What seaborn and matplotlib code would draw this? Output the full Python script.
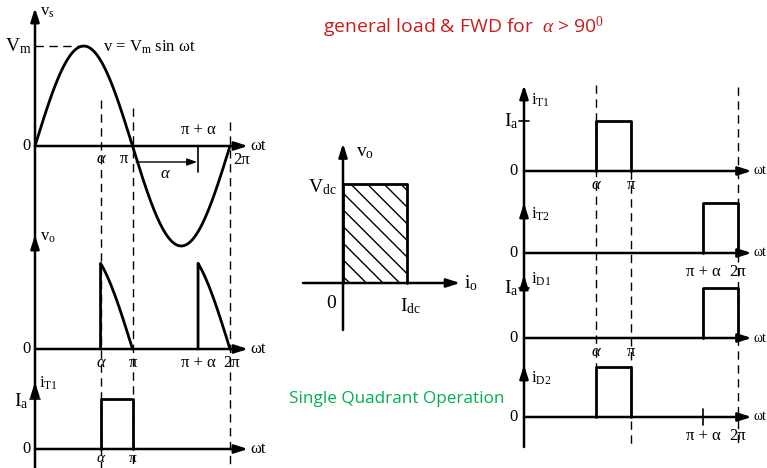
import numpy as np
import matplotlib
matplotlib.use("Agg")
import matplotlib.pyplot as plt
import seaborn as sns

sns.set_theme(style="white")
plt.rcParams['font.family'] = ['Liberation Serif', 'DejaVu Serif']
plt.rcParams['mathtext.fontset'] = 'custom'
plt.rcParams['mathtext.rm'] = 'Liberation Serif'
plt.rcParams['mathtext.it'] = 'Liberation Serif:italic'
plt.rcParams['mathtext.bf'] = 'Liberation Serif:bold'
plt.rcParams['hatch.linewidth'] = 1.0
plt.rcParams['hatch.color'] = 'black'

# ---------------- waveform data ----------------
alpha_deg = 121                      # firing angle (> 90 deg)
alpha = np.deg2rad(alpha_deg)
Vm = 1.0                             # source peak
Ia = 1.0                             # load current level (right column)
Ia_left = 0.5                        # load current level in the left column (Vm units)
Vdc = 1.0
Idc = 1.0

wt = np.linspace(0, 2 * np.pi, 361)
vs = Vm * np.sin(wt)

seg1 = np.linspace(alpha, np.pi, 120)
seg2 = np.linspace(np.pi + alpha, 2 * np.pi, 120)
vo1_x = np.r_[alpha, seg1]
vo1_y = np.r_[0.0, np.abs(Vm * np.sin(seg1))]
vo2_x = np.r_[np.pi + alpha, seg2]
vo2_y = np.r_[0.0, np.abs(Vm * np.sin(seg2))]

# conduction intervals of each device
conduction = {
    'T1': (alpha, np.pi),
    'T2': (np.pi + alpha, 2 * np.pi),
    'D1': (np.pi + alpha, 2 * np.pi),
    'D2': (alpha, np.pi),
}

W, H = 767, 468
fig = plt.figure(figsize=(W / 100, H / 100), dpi=100)
fig.patch.set_facecolor('white')


def overlay(x0, xs, y0, ys):
    """Transparent full-figure axes whose origin sits at pixel (x0, y0)."""
    ax = fig.add_axes([0, 0, 1, 1])
    ax.set_xlim(-x0 / xs, (W - x0) / xs)
    ax.set_ylim(-(H - y0) / ys, y0 / ys)
    ax.axis('off')
    ax.patch.set_alpha(0)
    return ax


LW_AX = 1.8
LW_W = 2.0
DASH = dict(color='black', lw=1.0, linestyle=(0, (6, 4)))
ARW = dict(arrowstyle='-|>,head_length=0.5,head_width=0.16', color='black',
           lw=LW_AX, shrinkA=0, shrinkB=0, mutation_scale=16)


def axis_arrow(ax, start, tip):
    ax.annotate('', xy=tip, xytext=start, arrowprops=ARW, annotation_clip=False)


def wave(ax, x, y, base=0.0, scale=1.0, lw=LW_W):
    sns.lineplot(x=np.asarray(x), y=base + scale * np.asarray(y), ax=ax,
                 sort=False, estimator=None, color='black', lw=lw, legend=False)


def pulse(ax, a, b, level, base):
    wave(ax, [a, a, b, b], [0, level, level, 0], base=base)


def txt(ax, x, y, s, size=12, **kw):
    kw.setdefault('ha', 'center')
    kw.setdefault('va', 'center')
    ax.text(x, y, s, fontsize=size, color='black', clip_on=False, **kw)


PI = np.pi
TWO_PI = 2 * np.pi
A_TXT = dict(style='italic')

# ---------------- left column: vs, vo, iT1 ----------------
axL = overlay(35, 195 / TWO_PI, 146, 100)
b_vs, b_vo, b_i = 0.0, -2.03, -3.03
x_end = TWO_PI + 0.58

# vertical axis with arrowheads for each trace
axis_arrow(axL, (0, -3.3), (0, 1.38))
for tip in (-0.89, -2.36):
    axis_arrow(axL, (0, tip - 0.15), (0, tip))
for b in (b_vs, b_vo, b_i):
    axis_arrow(axL, (0, b), (x_end, b))
    txt(axL, -0.26, b, '0', 12)
    txt(axL, TWO_PI + 0.92, b, 'ωt', 12)

# dashed markers
axL.plot([alpha, alpha], [0.46, -3.3], **DASH, clip_on=False)
axL.plot([PI, PI], [0.38, -3.3], **DASH, clip_on=False)
axL.plot([TWO_PI, TWO_PI], [0.24, -3.3], **DASH, clip_on=False)
axL.plot([0, PI / 2], [Vm, Vm], **DASH)

# source voltage
wave(axL, wt, vs, base=b_vs)
txt(axL, -0.55, Vm, r'$\mathrm{V_m}$', 14)
txt(axL, 0.15, 1.34, r'$\mathrm{v_s}$', 12, ha='left')
txt(axL, 2.18, 0.99, r'v = $\mathrm{V_m}$ sin ωt', 12, ha='left')
txt(axL, alpha, -0.13, 'α', 12, **A_TXT)
txt(axL, PI - 0.27, -0.13, 'π', 12)
txt(axL, PI + alpha, 0.16, 'π + α', 12)
txt(axL, TWO_PI + 0.36, -0.14, '2π', 12)
axL.plot([PI + alpha, PI + alpha], [0, -0.26], color='black', lw=1.2)
axL.annotate('', xy=(PI + alpha - 0.03, -0.16), xytext=(PI + 0.12, -0.16),
             arrowprops=dict(arrowstyle='-|>,head_length=0.5,head_width=0.18',
                             color='black', lw=1.0, shrinkA=0, shrinkB=0,
                             mutation_scale=12))
txt(axL, PI + alpha / 2, -0.28, 'α', 12, **A_TXT)

# output voltage
wave(axL, vo1_x, vo1_y, base=b_vo)
wave(axL, vo2_x, vo2_y, base=b_vo)
txt(axL, 0.15, -0.91, r'$\mathrm{v_o}$', 12, ha='left')
for x, s in ((alpha, 'α'), (PI, 'π'), (PI + alpha, 'π + α'), (TWO_PI + 0.05, '2π')):
    txt(axL, x, b_vo - 0.14, s, 12, **(A_TXT if s == 'α' else {}))

# thyristor current
a, b = conduction['T1']
pulse(axL, a, b, Ia_left, b_i)
txt(axL, 0.14, -2.37, r'$\mathrm{i_{T1}}$', 12, ha='left')
txt(axL, -0.45, b_i + Ia_left - 0.02, r'$\mathrm{I_a}$', 14)
axL.plot([-0.16, 0.16], [b_i + Ia_left] * 2, color='black', lw=1.2)
txt(axL, alpha, b_i - 0.1, 'α', 11, **A_TXT)
txt(axL, PI, b_i - 0.1, 'π', 11)

# ---------------- middle: vo-io plane ----------------
axM = overlay(343, 64, 283, 99)
axis_arrow(axM, (0, -0.475), (0, 1.41))
axis_arrow(axM, (-0.625, 0), (1.83, 0))
axM.fill_between([0, Idc], 0, Vdc, facecolor='white', edgecolor='black',
                 hatch='\\\\', lw=0)
axM.plot([0, 0, Idc, Idc], [0, Vdc, Vdc, 0], color='black', lw=LW_W)
txt(axM, 0.2, 1.32, r'$\mathrm{v_o}$', 14, ha='left')
txt(axM, -0.33, 0.97, r'$\mathrm{V_{dc}}$', 14)
txt(axM, -0.19, -0.21, '0', 14)
txt(axM, 1.05, -0.23, r'$\mathrm{I_{dc}}$', 14)
txt(axM, 2.0, 0.0, r'$\mathrm{i_o}$', 14)

green = axM.text(0.84, -1.17, 'Single Quadrant Operation', color='#00b050',
                 fontsize=13, family=['Open Sans', 'DejaVu Sans'],
                 ha='center', va='center')

title = fig.text(464 / W, 1 - 27 / H, r'general load & FWD for  $\alpha$ > 90$^{\mathrm{0}}$',
                 color='#cc1b1b', fontsize=16, family=['Open Sans', 'DejaVu Sans'],
                 ha='center', va='center')

# ---------------- right column: device currents ----------------
axR = overlay(524, 214 / TWO_PI, 171, 50)
bases = {'T1': 0.0, 'T2': -1.64, 'D1': -3.34, 'D2': -4.92}
xr_end = TWO_PI + 0.40

axis_arrow(axR, (0, -5.52), (0, 1.72))
for tip in (-0.64, -2.08, -3.88):
    axis_arrow(axR, (0, tip - 0.3), (0, tip))

axR.plot([alpha, alpha], [1.72, -3.92], **DASH)
axR.plot([PI, PI], [0.0, -5.52], **DASH)
axR.plot([TWO_PI, TWO_PI], [1.68, -5.52], **DASH)

label_y = {'T1': 1.42, 'T2': -0.86, 'D1': -2.16, 'D2': -4.14}
for name, base in bases.items():
    axis_arrow(axR, (0, base), (xr_end, base))
    a, b = conduction[name]
    pulse(axR, a, b, Ia, base)
    txt(axR, -0.32, base, '0', 12)
    txt(axR, xr_end + 0.06, base, 'ωt', 10, ha='left')
    txt(axR, 0.2, label_y[name], r'$\mathrm{i_{%s}}$' % name, 12, ha='left')

for base in (bases['T1'], bases['D1']):
    txt(axR, -0.36, base + Ia, r'$\mathrm{I_a}$', 14)
    axR.plot([-0.16, 0.16], [base + Ia] * 2, color='black', lw=1.2)

for base in (bases['T1'], bases['D1']):
    txt(axR, alpha, base - 0.28, 'α', 12, **A_TXT)
    txt(axR, PI, base - 0.28, 'π', 12)
for base in (bases['T2'], bases['D2']):
    txt(axR, PI + alpha, base - 0.38, 'π + α', 12)
    txt(axR, TWO_PI, base - 0.38, '2π', 12)
axR.plot([PI + alpha] * 2, [bases['D2'] + 0.16, bases['D2'] - 0.16], color='black', lw=1.2)

# scale the two sans-serif captions to their printed widths
fig.canvas.draw()
r = fig.canvas.get_renderer()
for t, target in ((title, 282), (green, 213)):
    w = t.get_window_extent(r).width
    t.set_fontsize(t.get_fontsize() * target / w)

fig.savefig('out.png', dpi=100)
